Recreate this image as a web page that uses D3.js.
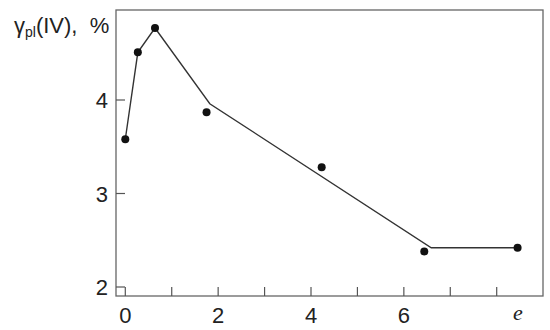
<head>
<meta charset="utf-8">
<style>
body { margin: 0; background: #fff; }
text { font-family: "Liberation Sans", Arial, sans-serif; fill: #222; }
</style>
</head>
<body>
<div id="chart"></div>
<script src="https://cdn.jsdelivr.net/npm/d3@7"></script>
<script>
(function() {
  "use strict";

  // measured points
  var pointX = [0, 0.27, 0.64, 1.75, 4.23, 6.44, 8.45];
  var pointY = [3.58, 4.51, 4.77, 3.87, 3.28, 2.38, 2.42];
  // fitted broken line
  var lineX = [0, 0.27, 0.64, 1.82, 6.59, 8.45];
  var lineY = [3.58, 4.51, 4.77, 3.96, 2.42, 2.42];
  var xTicks = [0, 1, 2, 3, 4, 5, 6, 7, 8];
  var xLabels = [0, 2, 4, 6];
  var yTicks = [2, 3, 4];

  var W = 550, H = 330,
    left = 116, right = 543, top = 10, bottom = 296;

  var x = d3.scaleLinear().domain([0, 8]).range([125.3, 496.7]);
  var y = d3.scaleLinear().domain([2, 4]).range([287, 100]);

  var svg = d3.select("#chart").append("svg")
    .attr("width", W)
    .attr("height", H);

  // frame
  svg.append("rect")
    .attr("x", left).attr("y", top)
    .attr("width", right - left).attr("height", bottom - top)
    .attr("fill", "none").attr("stroke", "#666").attr("stroke-width", 1.3);

  var tickLen = 9;

  svg.selectAll(".xt").data(xTicks).enter().append("line")
    .attr("x1", function(d) { return x(d); })
    .attr("x2", function(d) { return x(d); })
    .attr("y1", bottom).attr("y2", bottom - tickLen)
    .attr("stroke", "#555").attr("stroke-width", 1.2);

  svg.selectAll(".yt").data(yTicks).enter().append("line")
    .attr("x1", left).attr("x2", left + tickLen)
    .attr("y1", function(d) { return y(d); })
    .attr("y2", function(d) { return y(d); })
    .attr("stroke", "#555").attr("stroke-width", 1.2);

  svg.selectAll(".xl").data(xLabels).enter().append("text")
    .attr("x", function(d) { return x(d); })
    .attr("y", 323)
    .attr("text-anchor", "middle")
    .attr("font-size", 22)
    .text(function(d) { return d; });

  svg.selectAll(".yl").data(yTicks).enter().append("text")
    .attr("x", 108)
    .attr("y", function(d) { return y(d) + 8; })
    .attr("text-anchor", "end")
    .attr("font-size", 22)
    .text(function(d) { return d; });

  // "e" axis name
  svg.append("text")
    .attr("x", 518).attr("y", 320)
    .attr("text-anchor", "middle")
    .attr("font-size", 22)
    .style("font-family", "'Liberation Serif', 'DejaVu Serif', serif")
    .style("font-style", "italic")
    .text("e");

  // y axis name
  var yl = svg.append("text")
    .attr("x", 14).attr("y", 33)
    .attr("font-size", 22);
  yl.append("tspan").text("γ");
  yl.append("tspan").attr("font-size", 14).attr("dy", 4).text("pl");
  yl.append("tspan").attr("dy", -4).text("(IV),\u00a0 %");

  var line = d3.line()
    .x(function(d) { return x(lineX[d]); })
    .y(function(d) { return y(lineY[d]); });

  svg.append("path")
    .attr("d", line(d3.range(lineX.length)))
    .attr("fill", "none")
    .attr("stroke", "#333")
    .attr("stroke-width", 1.4);

  svg.selectAll(".pt").data(d3.range(pointX.length)).enter().append("circle")
    .attr("cx", function(d) { return x(pointX[d]); })
    .attr("cy", function(d) { return y(pointY[d]); })
    .attr("r", 4)
    .attr("fill", "#111");
})();
</script>
</body>
